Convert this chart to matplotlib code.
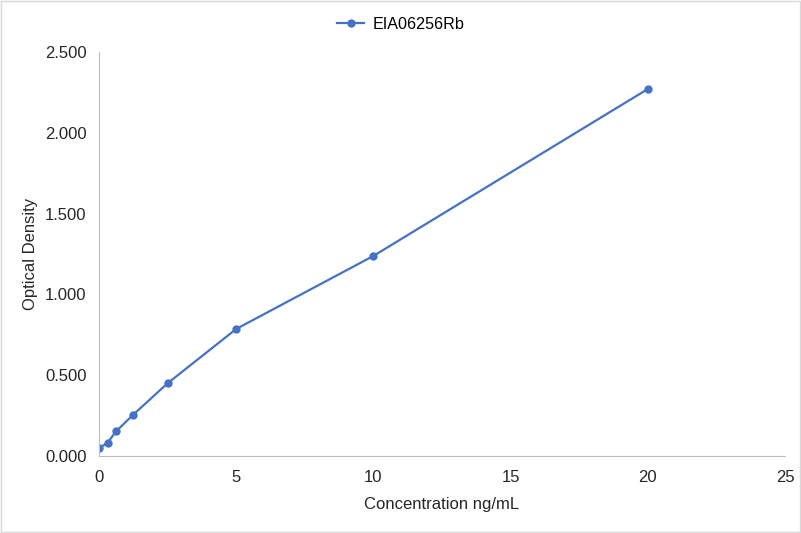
import matplotlib
matplotlib.use('Agg')
from matplotlib import pyplot as plt
import numpy as np

plt.rcParams['font.family'] = ['Liberation Sans', 'DejaVu Sans']

# standard curve data
conc = [0, 0.3125, 0.625, 1.25, 2.5, 5, 10, 20]
od = [0.048, 0.082, 0.153, 0.256, 0.450, 0.786, 1.238, 2.271]
series_name = 'EIA06256Rb'

fig = plt.figure(figsize=(8.01, 5.33), dpi=100)
ax = fig.add_axes([0.1236, 0.1445, 0.8564, 0.7579])

line_color = '#4472C4'
ax.plot(conc, od, color=line_color, linewidth=1.6, marker='o',
        markersize=5, label=series_name)

ax.set_xlim(0, 25)
ax.set_ylim(0, 2.5)
ax.set_xticks(np.arange(0, 26, 5))
ax.set_yticks(np.arange(0, 2.51, 0.5))
ax.set_yticklabels(['%.3f' % v for v in np.arange(0, 2.51, 0.5)])

for side in ['top', 'right']:
    ax.spines[side].set_visible(False)
for side in ['left', 'bottom']:
    ax.spines[side].set_color('#BFBFBF')
txt_color = '#262626'
ax.tick_params(axis='y', length=0, labelsize=12, colors=txt_color, pad=9)
ax.tick_params(axis='x', length=0, labelsize=12, colors=txt_color, pad=10)

ax.set_xlabel('Concentration ng/mL', fontsize=12, color=txt_color, labelpad=9)
ax.set_ylabel('Optical Density', fontsize=12, color=txt_color, labelpad=5)

fig.legend(loc='upper center', bbox_to_anchor=(0.5, 0.99), frameon=False,
           fontsize=11.6, handlelength=1.7, handletextpad=0.5, borderaxespad=0.3)

# light border around the figure
fig.patches.append(plt.Rectangle((0.001, 0.001), 0.998, 0.997, transform=fig.transFigure,
                                 fill=False, edgecolor='#D9D9D9', linewidth=1))

plt.savefig('out.png', dpi=100)
